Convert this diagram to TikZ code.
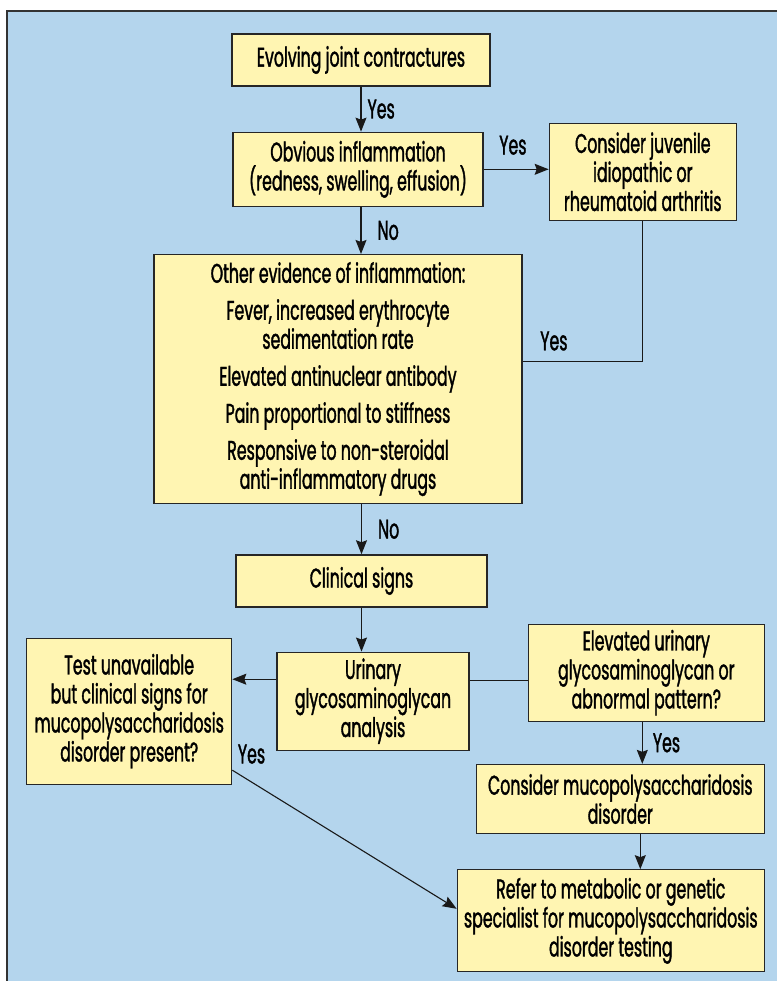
\documentclass[tikz,border=0pt]{standalone}
\usepackage{fontspec}
\setmainfont[FakeStretch=0.585, FakeBold=1.3]{Poppins}
\usetikzlibrary{positioning,arrows.meta}
\definecolor{panelblue}{RGB}{180,213,237}
\definecolor{boxyellow}{RGB}{255,245,178}

\begin{document}
\begin{tikzpicture}[
  x=1pt, y=1pt,
  node distance=45pt,
  box/.style={draw=black!85, line width=1.3pt, fill=boxyellow, align=center, inner sep=4pt, font=\fontsize{27}{29}\selectfont},
  tag/.style={font=\fontsize{27}{29}\selectfont, inner sep=2pt},
  flow/.style={draw=black!90, line width=1.1pt, -{Stealth[length=14pt,width=11pt,inset=2pt]}},
  link/.style={draw=black!90, line width=1.1pt}
]
  \useasboundingbox (0,0) rectangle (777,-981);
  \fill[white] (0,0) rectangle (777,-981);
  \fill[panelblue] (7,-11) rectangle (777,-981);
  \draw[black!80, line width=1.5pt] (7,-981) -- (7,-11) -- (777,-11);

  \node (evolve) [box, minimum width=258pt, minimum height=52pt] at (361,-60) {Evolving joint contractures};

  \node (obvious) [box, below=45pt of evolve, xshift=-3pt, minimum width=250pt, minimum height=74pt] {Obvious inflammation\\(redness, swelling, effusion)};
  \node (juvenile) [box, right=65pt of obvious, yshift=-2.5pt, minimum width=187pt, minimum height=97pt] {Consider juvenile\\idiopathic or\\rheumatoid arthritis};

  \node (other) [box, below=47pt of obvious, xshift=-20pt, minimum width=368pt, minimum height=249pt] {Other evidence of inflammation:\\[8pt]
    Fever, increased erythrocyte\\sedimentation rate\\[8pt]
    Elevated antinuclear antibody\\[8pt]
    Pain proportional to stiffness\\[8pt]
    Responsive to non-steroidal\\anti-inflammatory drugs};

  \node (clinical) [box, below=50pt of other, xshift=23.5pt, minimum width=251pt, minimum height=52pt] {Clinical signs};
  \node (urinary) [box, below=44pt of clinical, xshift=11.5pt, minimum width=192pt, minimum height=98pt] {Urinary\\glycosaminoglycan\\analysis};
  \node (test) [box, left=44pt of urinary, yshift=-10pt, minimum width=205pt, minimum height=146pt] {Test unavailable\\but clinical signs for\\mucopolysaccharidosis\\disorder present?};
  \node (elevated) [box, right=58pt of urinary, yshift=28.5pt, minimum width=236pt, minimum height=97pt] {Elevated urinary\\glycosaminoglycan or\\abnormal pattern?};
  \node (mps) [box, below=42pt of elevated, xshift=-26pt, minimum width=288pt, minimum height=69pt] {Consider mucopolysaccharidosis\\disorder};
  \node (refer) [box, below=35pt of mps, xshift=-9.5pt, minimum width=307pt, minimum height=102pt] {Refer to metabolic or genetic\\specialist for mucopolysaccharidosis\\disorder testing};

  % connectors
  \draw[flow] (evolve.south) -- (evolve.south |- obvious.north) node[tag, midway, right=4pt] {Yes};
  \draw[flow] (obvious.east) -- (obvious.east -| juvenile.west) node[tag, pos=0.45, above=12pt] {Yes};
  \draw[link] (juvenile.south) |- ([yshift=18pt]other.east) node[tag, pos=0.87, above=8pt] {Yes};
  \draw[flow] (evolve.south |- obvious.south) -- (evolve.south |- other.north) node[tag, midway, right=14pt] {No};
  \draw[flow] (clinical.north |- other.south) -- (clinical.north) node[tag, midway, right=14pt] {No};
  \draw[flow] (clinical.south) -- (clinical.south |- urinary.north);
  \draw[flow] ([yshift=22pt]urinary.west) -- ([yshift=22pt]urinary.west -| test.east);
  \draw[link] ([yshift=21pt]urinary.east) -- ([yshift=21pt]urinary.east -| elevated.west);
  \draw[flow] ([xshift=-4pt]elevated.south) -- ([xshift=-4pt]elevated.south |- mps.north) node[tag, pos=0.5, right=8pt] {Yes};
  \draw[flow] ([xshift=20pt]mps.south) -- ([xshift=20pt]mps.south |- refer.north);
  \draw[flow] ([yshift=-59pt]test.east) -- ([yshift=12pt]refer.west) node[tag, pos=0, anchor=south west, xshift=3pt, yshift=4pt] {Yes};

\end{tikzpicture}
\end{document}
